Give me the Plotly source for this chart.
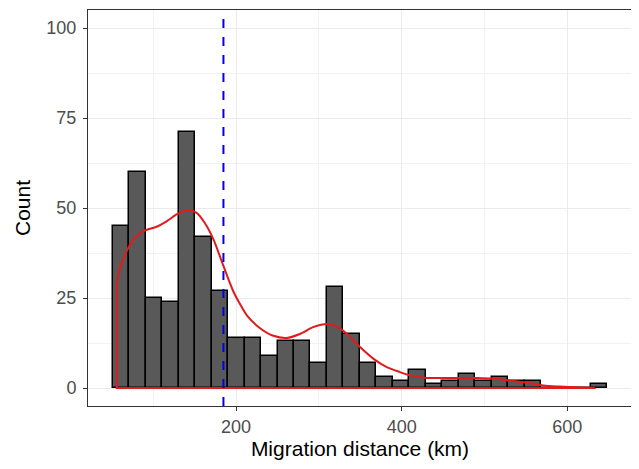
import plotly.graph_objects as go

# ---- data ----
bin_start = 51.0
bin_width = 19.9
counts = [45, 60, 25, 24, 71, 42, 27, 14, 14, 9,
          13, 13, 7, 28, 15, 7, 3, 2, 5, 1,
          2, 4, 2, 3, 2, 2, 0, 0, 0, 1]

density_x = [55.8, 60, 64, 70, 76, 88, 104, 116, 128, 142, 152, 162, 172.6, 184.7,
             196.7, 205, 213, 229, 245, 261, 277, 293, 310, 322, 334, 350, 366,
             382, 398, 410, 430, 450, 471, 491, 511, 531, 551, 571, 591, 612, 633]
density_y = [29.3, 33.5, 36, 39, 41.3, 43.6, 44.8, 46.3, 48.2, 49.4, 48.7, 45.9, 41.3, 33.9,
             26.8, 23.2, 20.2, 16.6, 14.5, 13.9, 15.0, 16.9, 17.8, 17.1, 15.0, 11.3, 8.1,
             5.8, 4.4, 3.5, 2.8, 2.8, 2.8, 2.8, 2.6, 2.1, 1.5, 0.7, 0.4, 0.2, 0.1]

mean_distance = 184.7

x_ticks = [200, 400, 600]
y_ticks = [0, 25, 50, 75, 100]
x_range = [21.1, 678.2]
y_range = [-5, 105]

# ---- derived ----
centers = [bin_start + bin_width * (i + 0.5) for i in range(len(counts))]

fig = go.Figure()

fig.add_trace(go.Bar(
    x=centers, y=counts, width=[bin_width] * len(counts),
    marker=dict(color="#595959", line=dict(color="black", width=1.5)),
    showlegend=False, hoverinfo="x+y",
))

# density outline: left edge + baseline
fig.add_trace(go.Scatter(
    x=[density_x[-1], density_x[-1], density_x[0], density_x[0]],
    y=[density_y[-1], 0, 0, density_y[0]],
    mode="lines", line=dict(color="#E31A1C", width=2), showlegend=False,
    hoverinfo="skip",
))
# density curve
fig.add_trace(go.Scatter(
    x=density_x, y=density_y, mode="lines",
    line=dict(color="#E31A1C", width=2, shape="spline", smoothing=0.8),
    showlegend=False,
))

fig.add_vline(x=mean_distance, line=dict(color="#0000EE", width=2, dash="dash"))

grid_major = "#EBEBEB"
grid_minor = "#F2F2F2"
font_fam = "Liberation Sans, Arial, sans-serif"

# the page body has an 8px margin, so the figure is sized to fit the 639x469 window
fig.update_layout(
    width=631, height=461,
    margin=dict(l=80, r=7, t=2, b=63),
    paper_bgcolor="white", plot_bgcolor="white",
    bargap=0,
    font=dict(family=font_fam),
)

fig.update_xaxes(
    range=x_range, tickvals=x_ticks, ticktext=[str(v) for v in x_ticks],
    automargin=False,
    showgrid=True, gridcolor=grid_major, gridwidth=1.2,
    minor=dict(dtick=100, tick0=0, showgrid=True, gridcolor=grid_minor, gridwidth=0.8, ticklen=0),
    showline=True, linecolor="#333333", linewidth=1, mirror=True,
    ticks="outside", ticklen=4, tickcolor="#333333", tickwidth=1,
    tickfont=dict(size=18, color="#4D4D4D", family=font_fam),
    title=dict(text="Migration distance (km)", font=dict(size=21, color="black", family=font_fam), standoff=2),
    zeroline=False,
)
fig.update_yaxes(
    range=y_range, tickvals=y_ticks, ticktext=[str(v) for v in y_ticks],
    automargin=False, ticklabelstandoff=3,
    showgrid=True, gridcolor=grid_major, gridwidth=1.2,
    minor=dict(dtick=12.5, tick0=0, showgrid=True, gridcolor=grid_minor, gridwidth=0.8, ticklen=0),
    showline=True, linecolor="#333333", linewidth=1, mirror=True,
    ticks="outside", ticklen=4, tickcolor="#333333", tickwidth=1,
    tickfont=dict(size=18, color="#4D4D4D", family=font_fam),
    title=dict(text="Count", font=dict(size=21, color="black", family=font_fam), standoff=10),
    zeroline=False,
)

fig.write_html("out.html")
